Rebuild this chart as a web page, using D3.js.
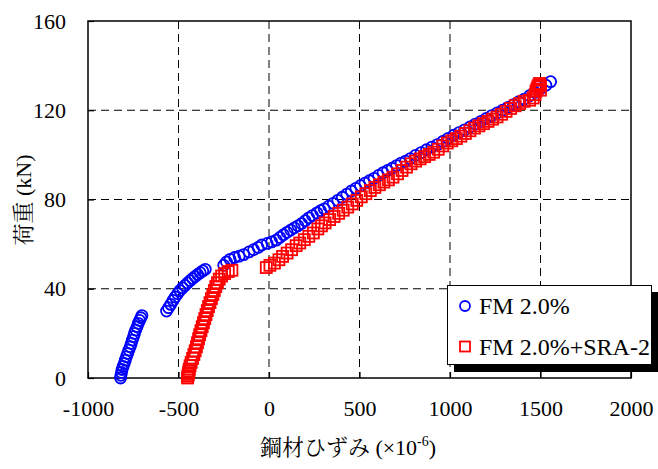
<!DOCTYPE html>
<html><head><meta charset="utf-8">
<script src="https://cdn.jsdelivr.net/npm/d3@7"></script>
<style>body{margin:0;background:#fff}svg{display:block}</style>
</head><body>
<script>
// ---- data ----
const xTicks = [-1000, -500, 0, 500, 1000, 1500, 2000];
const yTicks = [0, 40, 80, 120, 160];
const seriesNames = ["FM 2.0%", "FM 2.0%+SRA-2"];
// FM2.0% : [strain, load]
const fmStrain = [-820,-818,-815,-812,-806,-800,-794,-788,-781,-774,-767,-761,-755,-749,-743,-736,-729,-722,-715,-708,-702,
  -566,-555,-543,-530,-518,-505,-492,-478,-464,-450,-436,-422,-408,-394,-380,-366,-352,
  -250,-235,-215,-190,-165,-140,-110,-85,-60,-40,-10,15,40,60,80,100,120,140,160,180,200,220,240,265,285,305,330,355,380,405,430,455,480,505,530,555,580,605,630,655,680,705,730,755,780,810,840,870,900,930,960,990,1020,1050,1080,1110,1140,1170,1200,1230,1260,1290,1320,1350,1380,1410,1440,1470,1500,1530,1556];
const fmLoad = [0,1.2,2.5,3.8,5.2,6.5,8,9.5,11,12.5,14,15.5,17,18.5,20,21.5,23,24.5,25.8,27,28,
  30,31.5,33,34.8,36.3,37.8,39.2,40.4,41.5,42.6,43.6,44.6,45.5,46.4,47.2,48,48.7,
  50.5,52,53.2,54,54.6,55.3,56.5,57.5,58.5,59.6,60.3,61,61.8,63,64.2,65.3,66.3,67.3,68.2,69.2,70.5,71.8,72.8,74,75,75.8,77,78.3,79.6,81,82.4,83.8,85,86.2,87.3,88.4,89.5,90.8,92,93,94,95.2,96.3,97.2,98.3,99.8,101,102.3,103.5,104.6,106,107.4,108.8,110,111.2,112.5,113.8,115,116.3,117.6,118.8,120,121.3,122.5,123.8,125,126.5,128,129.6,131.2,132.8];
// FM2.0%+SRA-2
const sraStrain = [-450,-448,-446,-444,-442,-440,-436,-430,-422,-415,-408,-401,-395,-389,-383,-376,-369,-362,-355,-348,-341,-334,-326,-318,-310,-302,-294,-285,-275,-262,-245,-225,-205,
  -15,5,30,55,75,100,125,150,170,195,220,245,270,290,310,335,360,385,410,435,460,485,510,535,560,585,610,635,660,685,710,735,760,785,810,835,860,885,910,935,960,985,1010,1035,1060,1085,1110,1135,1160,1185,1210,1235,1260,1285,1310,1335,1360,1385,1410,1440,1460,1470,1475,1480,1485,1490,1495,1500,1500];
const sraLoad = [0,0.8,1.6,2.4,3.2,4,5.5,7,8.8,10.5,12.2,14,15.8,17.6,19.4,21.2,23,24.8,26.6,28.4,30.2,32,33.8,35.6,37.4,39.2,41,42.7,44.3,45.7,46.8,47.7,48.3,
  49.5,50.5,51.5,53,54.5,56,57.5,59.3,60.5,62,63.5,65,66.8,68.2,69.5,71,72.4,73.8,75.2,76.6,78,79.6,81.2,82.6,84,85.4,86.6,87.8,88.8,90,91.5,93,94.5,96,97.2,98.2,99.2,100.2,101.2,102.5,104,105.3,106.3,107.3,108.4,109.6,110.8,112,113,114,115,116,117,118.2,119.5,120.8,122,123,124,124.5,125.5,127,128.5,129.5,130.5,131.3,132,131,129];

const W = 658, H = 469;
const m = {l: 88, r: 631, t: 21, b: 378};
const svg = d3.select("body").append("svg").attr("width", W).attr("height", H);
const x = d3.scaleLinear().domain([-1000, 2000]).range([m.l, m.r]);
const y = d3.scaleLinear().domain([0, 160]).range([m.b, m.t]);
const font = "'Liberation Serif','Times New Roman',serif";
const jfont = "'Liberation Serif','Noto Serif CJK JP','Noto Sans CJK JP',serif";

// grid
const g = svg.append("g");
g.selectAll(".vg").data(xTicks.slice(1, -1)).join("line")
  .attr("x1", d => x(d)).attr("x2", d => x(d)).attr("y1", m.t).attr("y2", m.b)
  .attr("stroke", "#000").attr("stroke-width", 1).attr("stroke-dasharray", "8,5");
g.selectAll(".hg").data(yTicks.slice(1, -1)).join("line")
  .attr("x1", m.l).attr("x2", m.r).attr("y1", d => y(d)).attr("y2", d => y(d))
  .attr("stroke", "#000").attr("stroke-width", 1).attr("stroke-dasharray", "8,5");

// axes
const xAxis = d3.axisBottom(x).tickValues(xTicks).tickSizeInner(-6).tickSizeOuter(0).tickPadding(34);
const yAxis = d3.axisLeft(y).tickValues(yTicks).tickSizeInner(-6).tickSizeOuter(0).tickPadding(22);
const gx = svg.append("g").attr("transform", `translate(0,${m.b})`).call(xAxis);
const gy = svg.append("g").attr("transform", `translate(${m.l},0)`).call(yAxis);
[gx, gy].forEach(a => {
  a.select(".domain").remove();
  a.selectAll("line").attr("stroke", "#000").attr("stroke-width", 1.2);
  a.selectAll("text").attr("font-family", font).attr("font-size", 22).attr("fill", "#000");
});
gx.selectAll("text").text(d => d < 0 ? "-" + Math.abs(d) : d);
gx.selectAll("text").attr("dy", "0.2em");

// frame
svg.append("rect").attr("x", m.l).attr("y", m.t).attr("width", m.r - m.l).attr("height", m.b - m.t)
  .attr("fill", "none").attr("stroke", "#000").attr("stroke-width", 1.5);

// data
const fm = fmStrain.map((s, i) => [s, fmLoad[i]]);
const sra = sraStrain.map((s, i) => [s, sraLoad[i]]);
svg.append("g").selectAll("circle").data(fm).join("circle")
  .attr("cx", d => x(d[0])).attr("cy", d => y(d[1])).attr("r", 5.5)
  .attr("fill", "none").attr("stroke", "#0000ff").attr("stroke-width", 1.8);
const sq = 11;
svg.append("g").selectAll("rect").data(sra).join("rect")
  .attr("x", d => x(d[0]) - sq / 2).attr("y", d => y(d[1]) - sq / 2)
  .attr("width", sq).attr("height", sq)
  .attr("fill", "none").attr("stroke", "#ff0000").attr("stroke-width", 1.8);

// legend
const lg = svg.append("g");
lg.append("rect").attr("x", 454).attr("y", 292).attr("width", 210).attr("height", 80).attr("fill", "#000");
lg.append("rect").attr("x", 447.5).attr("y", 285.5).attr("width", 204).attr("height", 79)
  .attr("fill", "#fff").attr("stroke", "#000").attr("stroke-width", 1);
lg.append("circle").attr("cx", 465).attr("cy", 306).attr("r", 5)
  .attr("fill", "none").attr("stroke", "#0000ff").attr("stroke-width", 1.8);
lg.append("rect").attr("x", 460).attr("y", 341.5).attr("width", 10).attr("height", 10)
  .attr("fill", "none").attr("stroke", "#ff0000").attr("stroke-width", 1.8);
lg.selectAll("text.l").data(seriesNames).join("text")
  .attr("x", 479).attr("y", (d, i) => 314 + i * 40.5)
  .attr("font-family", font).attr("font-size", 24).attr("fill", "#000").text(d => d);

// axis titles
const xt = svg.append("text").attr("x", 348).attr("y", 455).attr("text-anchor", "middle")
  .attr("font-family", jfont).attr("font-size", 22).attr("fill", "#000");
xt.append("tspan").text("鋼材ひずみ (×10");
xt.append("tspan").attr("dy", -9).attr("font-size", 14).text("-6");
xt.append("tspan").attr("dy", 9).text(")");
svg.append("text").attr("transform", "translate(31,200) rotate(-90)").attr("text-anchor", "middle")
  .attr("font-family", jfont).attr("font-size", 22).attr("fill", "#000").text("荷重 (kN)");
</script>
</body></html>
